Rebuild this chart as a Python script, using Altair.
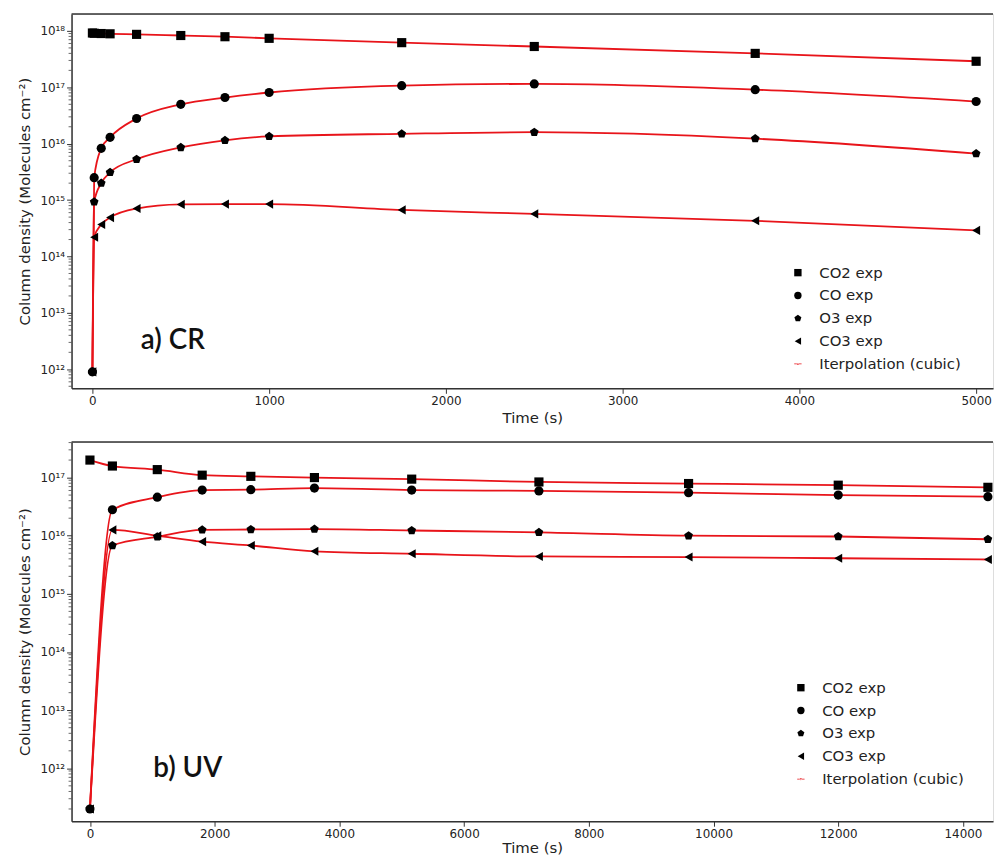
import altair as alt
import pandas as pd

# ---------------- data ----------------
species = ["CO2 exp", "CO exp", "O3 exp", "CO3 exp"]
interp_label = "Iterpolation (cubic)"

# a) CR panel
t_cr = [0, 10, 50, 100, 250, 500, 750, 1000, 1750, 2500, 3750, 5000]
co2_cr = [9.2e17, 9.1e17, 9.0e17, 8.9e17, 8.7e17, 8.3e17, 7.9e17, 7.4e17, 6.2e17, 5.3e17, 4.0e17, 2.9e17]
co_cr = [9.0e11, 2.5e15, 8.3e15, 1.3e16, 2.8e16, 5.0e16, 6.6e16, 8.1e16, 1.07e17, 1.15e17, 9.1e16, 5.6e16]
o3_cr = [9.0e11, 9.3e14, 2.0e15, 3.1e15, 5.3e15, 8.6e15, 1.15e16, 1.35e16, 1.5e16, 1.6e16, 1.23e16, 6.7e15]
co3_cr = [9.0e11, 2.2e14, 3.7e14, 4.9e14, 7.1e14, 8.4e14, 8.5e14, 8.5e14, 6.7e14, 5.7e14, 4.3e14, 2.9e14]

# b) UV panel
t_uv = [0, 360, 1080, 1800, 2580, 3600, 5160, 7200, 9600, 12000, 14400]
co2_uv = [2.0e17, 1.58e17, 1.37e17, 1.1e17, 1.05e17, 1.0e17, 9.4e16, 8.4e16, 7.9e16, 7.4e16, 6.8e16]
co_uv = [2.0e11, 2.8e16, 4.6e16, 6.1e16, 6.2e16, 6.6e16, 6.1e16, 5.9e16, 5.5e16, 5.0e16, 4.7e16]
o3_uv = [2.0e11, 6.8e15, 9.6e15, 1.26e16, 1.28e16, 1.3e16, 1.23e16, 1.14e16, 1.0e16, 9.7e15, 8.7e15]
co3_uv = [2.0e11, 1.26e16, 1.0e16, 7.9e15, 6.8e15, 5.4e15, 4.9e15, 4.4e15, 4.3e15, 4.1e15, 3.9e15]

x_ticks_cr = [0, 1000, 2000, 3000, 4000, 5000]
x_ticks_uv = [0, 2000, 4000, 6000, 8000, 10000, 12000, 14000]
y_ticks_cr = [1e12, 1e13, 1e14, 1e15, 1e16, 1e17, 1e18]
y_ticks_uv = [1e12, 1e13, 1e14, 1e15, 1e16, 1e17]


def frame(t, series):
    rows = []
    for name, vals in zip(species, series):
        for ti, v in zip(t, vals):
            rows.append({"t": ti, "v": v, "species": name})
    return pd.DataFrame(rows)


df_cr = frame(t_cr, [co2_cr, co_cr, o3_cr, co3_cr])
df_uv = frame(t_uv, [co2_uv, co_uv, o3_uv, co3_uv])

PENTAGON = "M0,-1L0.951,-0.309L0.588,0.809L-0.588,0.809L-0.951,-0.309Z"
INTERP = ("M-1,-0.1H1V0.1H-1Z "
          "M-0.3,0A0.3,0.3 0 1,0 0.3,0A0.3,0.3 0 1,0 -0.3,0Z")
legend_domain = species + [interp_label]
shape_range = ["square", "circle", PENTAGON, "triangle-left", INTERP]
color_range = ["#000000", "#000000", "#000000", "#000000", "#e8141a"]

SUP = {"0": "\u2070", "1": "\u00b9", "2": "\u00b2", "3": "\u00b3", "4": "\u2074",
       "5": "\u2075", "6": "\u2076", "7": "\u2077", "8": "\u2078", "9": "\u2079"}
labels = ["10" + "".join(SUP[c] for c in str(k)) for k in range(10, 20)]
label_expr = "[" + ",".join("'" + s + "'" for s in labels) + "][round(log(datum.value)/LN10) - 10]"

FONT = "DejaVu Sans"
FRAME = "#333333"
W = 928


def minor_ticks(lo, hi):
    out = []
    for k in range(10, 20):
        for m in range(2, 10):
            val = m * 10.0 ** k
            if lo < val < hi:
                out.append(val)
    return pd.DataFrame({"v": out})


def panel(df, xdom, ydom, xticks, yticks, width, height, leg_x, leg_y,
          label_text, label_x, label_y, x_title_pad):
    xs = alt.Scale(domain=xdom, nice=False, zero=False)
    ys = alt.Scale(type="log", domain=ydom, nice=False)
    x = alt.X("t:Q", scale=xs,
              axis=alt.Axis(values=xticks, title="Time (s)", grid=False, tickSize=5,
                            labelFontSize=12, titleFontSize=15, titleFontWeight="normal",
                            labelPadding=2, titlePadding=x_title_pad, domain=True,
                            domainColor=FRAME, domainWidth=1.5, labelColor="#222",
                            titleColor="#222", tickColor=FRAME, labelFont=FONT,
                            titleFont=FONT, format="d"))
    y = alt.Y("v:Q", scale=ys,
              axis=alt.Axis(values=yticks, labelExpr=label_expr,
                            title="Column density (Molecules cm\u207b\u00b2)", grid=False,
                            tickSize=5, labelFontSize=12, titleFontSize=15,
                            titleFontWeight="normal", labelPadding=2, titlePadding=7,
                            domain=True, domainColor=FRAME, domainWidth=1.5,
                            labelColor="#222", titleColor="#222",
                            tickColor=FRAME, labelFont=FONT, titleFont=FONT))
    leg = alt.Legend(orient="none", legendX=leg_x, legendY=leg_y,
                     title=None, labelFontSize=15, labelFont=FONT,
                     labelColor="#222", symbolSize=55, padding=0,
                     rowPadding=7, labelOffset=14, symbolStrokeWidth=0)
    lines = alt.Chart(df).mark_line(interpolate="monotone", color="#e8141a",
                                    strokeWidth=1.8).encode(x=x, y=y, detail="species:N")
    pts = alt.Chart(df).mark_point(filled=True, opacity=1, size=85).encode(
        x=x, y=y,
        shape=alt.Shape("species:N",
                        scale=alt.Scale(domain=legend_domain, range=shape_range), legend=leg),
        color=alt.Color("species:N",
                        scale=alt.Scale(domain=legend_domain, range=color_range), legend=leg),
    )
    minor = alt.Chart(minor_ticks(ydom[0], ydom[1])).mark_rule(color="#444", strokeWidth=0.8).encode(
        y=y, x=alt.value(-3), x2=alt.value(0))
    top_edge = alt.Chart(pd.DataFrame({"k": [0]})).mark_rule(
        color=FRAME, strokeWidth=1.5).encode(
        x=alt.value(0), x2=alt.value(width), y=alt.value(0))
    txt = alt.Chart(pd.DataFrame({"label": [label_text]})).mark_text(
        font="Lato", fontSize=28, fontWeight=600, align="center", baseline="alphabetic",
        color="#111").encode(text="label:N", x=alt.value(label_x), y=alt.value(label_y))
    return alt.layer(lines, pts, minor, top_edge, txt).properties(width=width, height=height)


# plot areas start near x=73 and run to the right edge (cut off in the picture)
top = panel(df_cr, [-118, -118 + W / 0.178], [4.6e11, 2.0e18], x_ticks_cr, y_ticks_cr, W, 377,
            724, 253, "a) CR", 102, 337, 4)
bottom = panel(df_uv, [-295, -295 + W / 0.0628], [1.23e11, 4.1e17], x_ticks_uv, y_ticks_uv, W, 382,
               727, 240, "b) UV", 117, 337, 1)

chart = alt.vconcat(top, bottom, spacing=14).resolve_scale(
    color="independent", shape="independent").resolve_legend(
    color="independent", shape="independent").properties(
    padding={"left": 9, "top": 1, "right": 0, "bottom": 0}).configure_view(
    strokeOpacity=0).configure(background="white")

chart.save("out.html", embed_options={"renderer": "svg", "actions": False})
